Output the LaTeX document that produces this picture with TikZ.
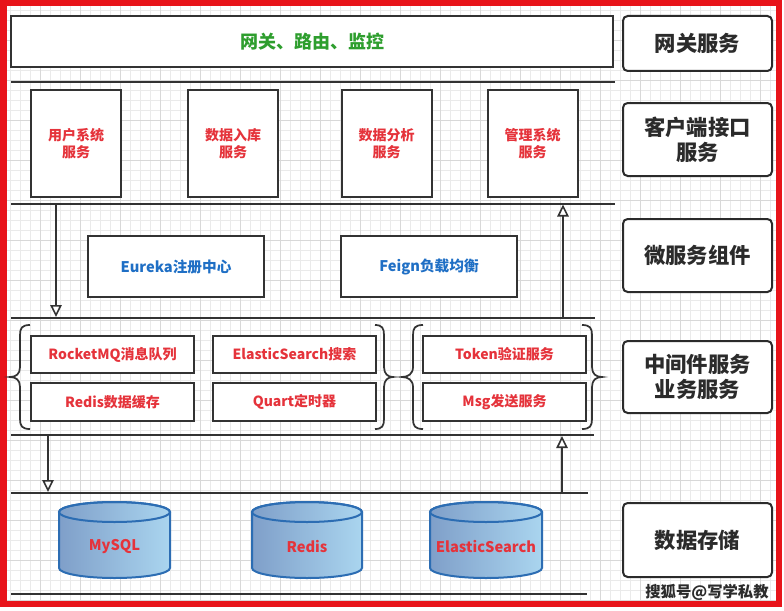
\documentclass[tikz,border=0pt]{standalone}
\usepackage{fontspec}
\setmainfont{Noto Sans CJK SC}
\usetikzlibrary{arrows.meta}
\newlength\pp \setlength\pp{0.75pt}
\definecolor{frameRed}{HTML}{E8141A}
\definecolor{txtRed}{HTML}{E5333B}
\definecolor{txtBlue}{HTML}{1F6FC5}
\definecolor{txtGreen}{HTML}{2E9E2E}
\definecolor{lineDark}{HTML}{333333}
\definecolor{labelDark}{HTML}{2B2B2B}
\definecolor{cylLeft}{HTML}{7F9FC9}
\definecolor{cylRight}{HTML}{AAD5EF}
\definecolor{cylEdge}{HTML}{2C6DB3}
\definecolor{gridMinor}{HTML}{EAEAEA}
\definecolor{gridMajor}{HTML}{D8D8D8}
\tikzset{
  box/.style={draw=lineDark, line width=1.5pt, fill=white, inner sep=0pt, align=center},
  gatebox/.style={box, text=txtGreen, font=\fontsize{13.5pt}{16pt}\selectfont\bfseries},
  svcbox/.style={box, minimum width=90\pp, minimum height=107\pp, text=txtRed,
    font=\fontsize{10.5pt}{12.75pt}\selectfont\bfseries},
  compbox/.style={box, minimum width=176\pp, minimum height=61\pp, text=txtBlue,
    font=\fontsize{11pt}{13pt}\selectfont\bfseries},
  midbox/.style={box, minimum width=163\pp, minimum height=37.5\pp, text=txtRed,
    font=\fontsize{10.5pt}{12.75pt}\selectfont\bfseries},
  layerbox/.style={draw=labelDark, line width=1.5pt, rounded corners=3.5pt, fill=white,
    inner sep=0pt, align=center, minimum width=149\pp, text=labelDark,
    font=\fontsize{16pt}{18.75pt}\selectfont\bfseries},
  hline/.style={draw=lineDark, line width=1.5pt},
  flow/.style={draw=lineDark, line width=1.2pt, -{Triangle[length=9pt, width=8.5pt, fill=white]}},
  bracestyle/.style={draw=lineDark, line width=1.3pt},
  cyltext/.style={text=txtRed, font=\fontsize{11pt}{13pt}\selectfont\bfseries, inner sep=0pt},
}
\newcommand\dbcyl[4]{%
  \shadedraw[left color=cylLeft, right color=cylRight, draw=cylEdge, line width=1.5pt]
    ({#1-#2},512) -- ({#1-#2},568) arc[start angle=180, end angle=360, x radius=#2\pp, y radius=10\pp]
    -- ({#1+#2},512) arc[start angle=0, end angle=180, x radius=#2\pp, y radius=10\pp] -- cycle;
  \draw[cylEdge, line width=1.5pt] (#1,512) ellipse[x radius=#2\pp, y radius=10\pp];
  \node[cyltext] (#3) at (#1,547) {#4};
}
\begin{document}
\begin{tikzpicture}[x=0.75pt, y=-0.75pt]
\useasboundingbox (0,0) rectangle (784,610);
\fill[white] (0,0) rectangle (784,610);
% grid
\foreach \gx in {10,20,...,780} {\draw[gridMinor, line width=0.5pt] (\gx,6) -- (\gx,602);}
\foreach \gy in {10,20,...,600} {\draw[gridMinor, line width=0.5pt] (6,\gy) -- (777,\gy);}
\foreach \gx in {40,80,...,760} {\draw[gridMajor, line width=0.5pt] (\gx,6) -- (\gx,602);}
\foreach \gy in {40,80,...,600} {\draw[gridMajor, line width=0.5pt] (6,\gy) -- (777,\gy);}
% red frame
\draw[frameRed, line width=4.5pt] (3.5,3) rectangle (779,604);

% horizontal separators
\draw[hline] (11,82) -- (615,82);
\draw[hline] (11,203.5) -- (615,203.5);
\draw[hline] (11,318) -- (595,318);
\draw[hline] (11,435) -- (594,435);
\draw[hline] (11,493) -- (588,493);
\draw[hline] (11,594) -- (587,594);

% gateway
\node[gatebox, minimum width=602\pp, minimum height=51\pp] (gate) at (312,41.5) {网关、路由、监控};

% client services
\node[svcbox] (svc1) at (76,143.5) {用户系统\\服务};
\node[svcbox] (svc2) at (233,143.5) {数据入库\\服务};
\node[svcbox] (svc3) at (386.5,143.5) {数据分析\\服务};
\node[svcbox] (svc4) at (532.5,143.5) {管理系统\\服务};

% components
\node[compbox] (eureka) at (176,266.5) {Eureka注册中心};
\node[compbox] (feign) at (429,266.5) {Feign负载均衡};

% middleware
\node[midbox] (rocket) at (112.5,354.5) {RocketMQ消息队列};
\node[midbox] (essearch) at (294.5,354.5) {ElasticSearch搜索};
\node[midbox] (rediscache) at (112.5,402) {Redis数据缓存};
\node[midbox] (quart) at (294.5,402) {Quart定时器};
\node[midbox] (token) at (504.5,354.5) {Token验证服务};
\node[midbox] (msg) at (504.5,402) {Msg发送服务};

% braces
\draw[bracestyle] (30,325) .. controls (22,325) and (20,328) .. (20,335) -- (20,367)
  .. controls (20,374) and (16,377) .. (10,377) .. controls (16,377) and (20,380) .. (20,387)
  -- (20,419) .. controls (20,426) and (22,429) .. (30,429);
\draw[bracestyle] (375,325) .. controls (382,325) and (384,328) .. (384,335) -- (384,367)
  .. controls (384,374) and (388,377) .. (393,377) .. controls (388,377) and (384,380) .. (384,387)
  -- (384,419) .. controls (384,426) and (382,429) .. (375,429);
\draw[bracestyle] (423,325) .. controls (415,325) and (413,328) .. (413,335) -- (413,367)
  .. controls (413,374) and (408,377) .. (402,377) .. controls (408,377) and (413,380) .. (413,387)
  -- (413,419) .. controls (413,426) and (415,429) .. (423,429);
\draw[bracestyle] (582,325) .. controls (590,325) and (592,328) .. (592,335) -- (592,367)
  .. controls (592,374) and (596,377) .. (602,377) .. controls (596,377) and (592,380) .. (592,387)
  -- (592,419) .. controls (592,426) and (590,429) .. (582,429);

% databases
\dbcyl{114.5}{55.5}{mysql}{MySQL}
\dbcyl{307}{55}{redisdb}{Redis}
\dbcyl{486}{56}{esdb}{ElasticSearch}

% arrows
\coordinate (a1s) at (56,204.5);
\coordinate (a1e) at (56,317);
\coordinate (a2s) at (563,317);
\coordinate (a2e) at (563,204.5);
\coordinate (a3s) at (48,436);
\coordinate (a3e) at (48,492);
\coordinate (a4s) at (562,492);
\coordinate (a4e) at (562,436);
\draw[flow] (a1s) -- (a1e);
\draw[flow] (a2s) -- (a2e);
\draw[flow] (a3s) -- (a3e);
\draw[flow] (a4s) -- (a4e);

% layer labels
\node[layerbox, minimum height=55\pp] (lgate) at (697.5,43.5) {网关服务};
\node[layerbox, minimum height=73\pp] (lclient) at (697.5,139.5) {客户端接口\\服务};
\node[layerbox, minimum height=73\pp] (lcomp) at (697.5,255.5) {微服务组件};
\node[layerbox, minimum height=72\pp] (lmid) at (697.5,377) {中间件服务\\业务服务};
\node[layerbox, minimum height=74\pp] (lstore) at (697.5,540) {数据存储};

% watermark
\node[text=labelDark, font=\fontsize{11.5pt}{13pt}\selectfont\bfseries, inner sep=0pt] (wm) at (707,592) {搜狐号@写学私教};
\end{tikzpicture}
\end{document}
